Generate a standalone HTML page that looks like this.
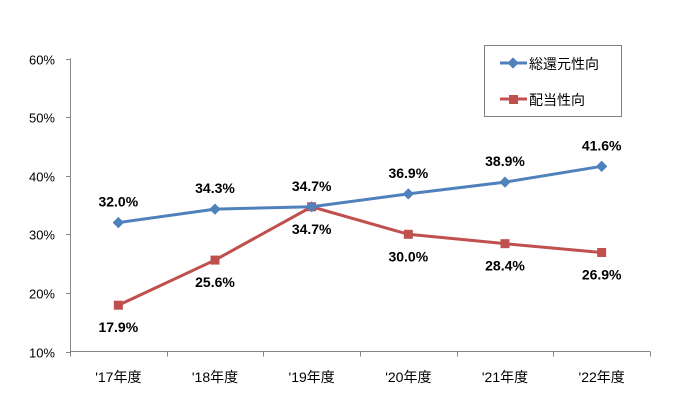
<!DOCTYPE html>
<html><head><meta charset="utf-8"><style>
body{margin:0;background:#fff;}
svg text{font-family:"Liberation Sans","Noto Sans CJK JP",sans-serif;}
</style></head><body>
<svg width="693" height="414">
<g id="axes"></g><g id="series"></g>
<g>
<rect x="484.5" y="45.5" width="137" height="71" fill="#fff" stroke="#808080"/>
<line x1="500" y1="63" x2="527" y2="63" stroke="#4F81BD" stroke-width="3"/>
<rect x="509" y="59" width="8" height="8" fill="#4F81BD" transform="rotate(45 513 63)"/>
<text x="529" y="69" font-size="14" fill="#000">総還元性向</text>
<line x1="500" y1="99" x2="527" y2="99" stroke="#C0504D" stroke-width="3"/>
<rect x="509" y="95" width="9" height="9" fill="#C0504D"/>
<text x="529" y="105" font-size="14" fill="#000">配当性向</text>
</g>
</svg>
<script>
const categories=["'17年度","'18年度","'19年度","'20年度","'21年度","'22年度"];
const totalReturn=[32.0,34.3,34.7,36.9,38.9,41.6];
const payout=[17.9,25.6,34.7,30.0,28.4,26.9];
const yTicks=[10,20,30,40,50,60];
const NS="http://www.w3.org/2000/svg";
const X0=70,X1=650,Y0=351.5,Y1=58.5;
const bw=(X1-X0)/categories.length;
const xs=i=>X0+bw*(i+0.5);
const ys=v=>Y0-(v-10)/50*(Y0-Y1);
function mk(t,a,p){const e=document.createElementNS(NS,t);for(const k in a)e.setAttribute(k,a[k]);p.appendChild(e);return e;}
const ax=document.getElementById('axes'),sg=document.getElementById('series');
let yl=mk('line',{x1:X0+.5,y1:Y1,x2:X0+.5,y2:Y0,stroke:'#868686'},ax);


let xl=mk('line',{x1:X0,y1:Y0,x2:X1,y2:Y0,stroke:'#868686'},ax);


yTicks.forEach(v=>{const y=Math.round(ys(v))+.5;
mk('line',{x1:X0-4,y1:y,x2:X0,y2:y,stroke:'#868686'},ax);
const t=mk('text',{x:X0-15,y:y+5,'text-anchor':'end','font-size':13,fill:'#000'},ax);t.textContent=v+'%';

});
categories.forEach((c,i)=>{const x=Math.round(X0+bw*i)+.5;
mk('line',{x1:x,y1:Y0,x2:x,y2:Y0+5,stroke:'#868686'},ax);
const t=mk('text',{x:xs(i),y:382,'text-anchor':'middle','font-size':14,fill:'#000'},ax);t.textContent=c;

});
mk('line',{x1:X1+.5,y1:Y0,x2:X1+.5,y2:Y0+5,stroke:'#868686'},ax);
function series(vals,color,marker,lblOff,name){
const pts=vals.map((v,i)=>xs(i)+','+ys(v)).join(' ');
const pl=mk('polyline',{points:pts,fill:'none',stroke:color,'stroke-width':3},sg);


vals.forEach((v,i)=>{const x=xs(i),y=ys(v);let m;
if(marker==='d'){m=mk('rect',{x:x-4,y:y-4,width:8,height:8,fill:color,transform:`rotate(45 ${x} ${y})`},sg);}
else{m=mk('rect',{x:x-4.5,y:y-4.5,width:9,height:9,fill:color},sg);}


const t=mk('text',{x:x,y:y+lblOff+5,'text-anchor':'middle','font-size':14,'font-weight':'bold',fill:'#000'},sg);
t.textContent=v.toFixed(1)+'%';

});}
series(payout,'#C0504D','s',22,'payout');
series(totalReturn,'#4F81BD','d',-21,'total-return');
</script>
</body></html>
